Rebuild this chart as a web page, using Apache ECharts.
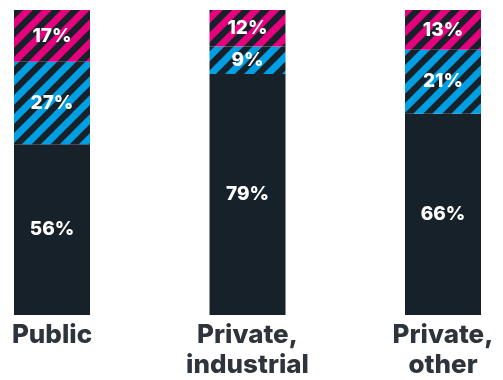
<!DOCTYPE html>
<html>
<head>
<meta charset="utf-8">
<script src="https://cdn.jsdelivr.net/npm/echarts@6/dist/echarts.min.js"></script>
<style>
  html, body { margin: 0; padding: 0; background: #fff; }
  #chart { width: 503px; height: 380px; }
</style>
</head>
<body>
<div id="chart"></div>
<script>
// Share of each sector, in percent
const categories = ['Public', 'Private,\nindustrial', 'Private,\nother'];
const baseShare = [56, 79, 66];
const middleShare = [27, 9, 21];
const topShare = [17, 12, 13];

const DARK = '#17212a';

// Diagonal stripe fill: coloured bands over the dark bar colour
function stripes(color) {
  const size = 19;
  const c = document.createElement('canvas');
  c.width = size; c.height = size;
  const g = c.getContext('2d');
  g.fillStyle = DARK;
  g.fillRect(0, 0, size, size);
  g.strokeStyle = color;
  g.lineWidth = 7;
  for (let x = -size; x <= size; x += size) {
    g.beginPath();
    g.moveTo(x - 3, size + 3);
    g.lineTo(x + size + 3, -3);
    g.stroke();
  }
  return { image: c, repeat: 'repeat' };
}

const labelStyle = {
  show: true,
  position: 'inside',
  color: '#ffffff',
  fontFamily: 'Inter',
  fontWeight: 800,
  fontSize: 19,
  formatter: p => p.value + '%'
};

const chart = echarts.init(document.getElementById('chart'), null, { renderer: 'canvas' });
chart.setOption({
  animation: false,
  grid: { left: 52, right: 60, top: 10, bottom: 63 },
  xAxis: {
    type: 'category',
    data: categories,
    boundaryGap: false,
    axisLine: { show: false },
    axisTick: { show: false },
    axisLabel: {
      interval: 0,
      margin: 5,
      color: '#2e343b',
      fontFamily: 'Inter',
      fontWeight: 800,
      fontSize: 26,
      lineHeight: 30
    }
  },
  yAxis: {
    type: 'value',
    min: 0,
    max: 100,
    show: false,
    splitLine: { show: false }
  },
  series: [
    {
      type: 'bar', stack: 'share', barWidth: 76,
      data: baseShare,
      itemStyle: { color: DARK },
      label: labelStyle
    },
    {
      type: 'bar', stack: 'share', barWidth: 76,
      data: middleShare,
      itemStyle: { color: stripes('#009ee2') },
      label: labelStyle
    },
    {
      type: 'bar', stack: 'share', barWidth: 76,
      data: topShare,
      itemStyle: { color: stripes('#e5007e') },
      label: labelStyle
    }
  ]
});
</script>
</body>
</html>
